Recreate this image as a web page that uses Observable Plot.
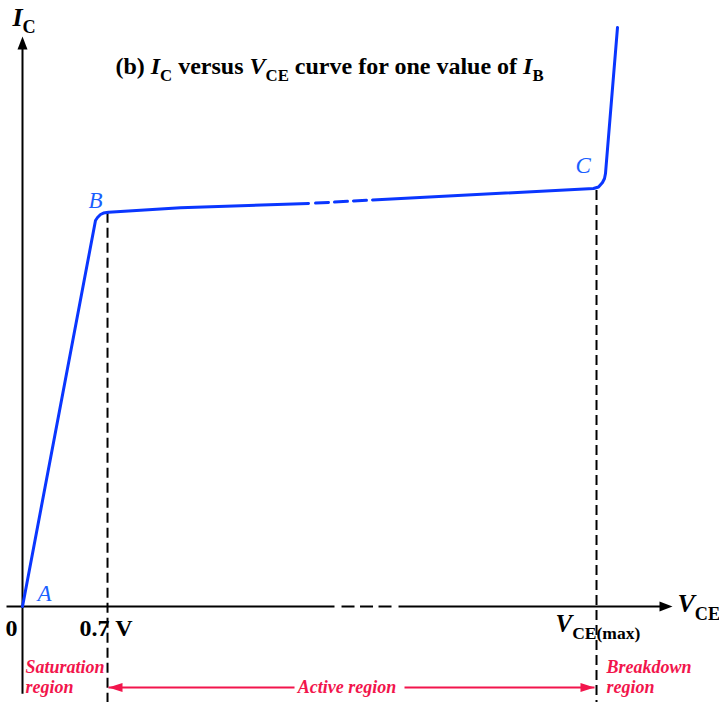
<!DOCTYPE html>
<html><head><meta charset="utf-8">
<script src="https://cdn.jsdelivr.net/npm/d3@7"></script>
<script src="https://cdn.jsdelivr.net/npm/@observablehq/plot@0.6"></script>
<style>body{margin:0;background:#fff}svg{display:block}</style>
</head><body><div id="chart"></div>
<script>
// ---- data (arbitrary units: VCE 0..100, IC 0..100) ----
const vCurve1 = [0, 11.23, 11.54, 12.0, 12.46, 13.23, 24.31, 44.0];
const iCurve1 = [0, 67.72, 68.25, 68.77, 69.02, 69.18, 69.95, 70.70];
const vGap = [45.08, 52.92];
const iGap = [70.77, 71.26];
const vCurve2 = [53.85, 87.85, 88.62, 89.23, 89.54, 89.69, 91.54];
const iCurve2 = [71.32, 73.33, 73.60, 74.39, 75.09, 75.96, 101.58];

const boundaryV = [13.08, 88.31];
const boundaryTop = [69.0, 72.98];
const tickLabels = ["0.7 V", "*V*_{CE(max)}"];

const pointNames = ["A", "B", "C"];
const pointV = [2.31, 10.15, 85.08];
const pointI = [1.05, 70.0, 76.14];

const regionNames = ["Saturation\nregion", "Active region", "Breakdown\nregion"];

const titleText = "(b) *I*_{C} versus *V*_{CE} curve for one value of *I*_{B}";
const xLabel = "*V*_{CE}";
const yLabel = "*I*_{C}";

// ---- build tables ----
const toPts = (vs, is) => vs.map((v, k) => ({v, i: is[k]}));
const curve1 = toPts(vCurve1, iCurve1);
const gap = toPts(vGap, iGap);
const curve2 = toPts(vCurve2, iCurve2);
const bounds = boundaryV.map((v, k) => ({v, top: boundaryTop[k], label: tickLabels[k]}));
const points = pointNames.map((n, k) => ({n, v: pointV[k], i: pointI[k]}));

const BLUE = "#0a36ff", LBLUE = "#1a5fff", RED = "#f2154c", INK = "#000";
const yBottom = -16.84, yArrow = -14.21;

// custom arrowhead symbols (tip at the anchor point)
const tri = (pts) => ({draw(ctx) { ctx.moveTo(0, 0); ctx.lineTo(pts[0], pts[1]); ctx.lineTo(pts[2], pts[3]); ctx.closePath(); }});
const arrowUp = tri([-5, 13, 5, 13]);
const arrowRight = tri([-13, -5, -13, 5]);
const redRight = tri([-14, -4.5, -14, 4.5]);
const redLeft = tri([14, -4.5, 14, 4.5]);

const serif = "'Liberation Serif', 'Times New Roman', serif";

const chart = Plot.plot({
  width: 719, height: 705,
  x: {domain: [0, 100], range: [22, 672], axis: null},
  y: {domain: [0, 100], range: [606, 36], axis: null},
  style: {background: "white", fontFamily: serif},
  marks: [
    // axes
    Plot.link([{x1: -2.46, x2: 48.0}, {x1: 57.85, x2: 98.5}], {x1: "x1", x2: "x2", y1: 0, y2: 0, stroke: INK, strokeWidth: 2}),
    Plot.link([{x1: 49.08, x2: 56.92}], {x1: "x1", x2: "x2", y1: 0, y2: 0, stroke: INK, strokeWidth: 2, strokeDasharray: "13,5.5"}),
    Plot.link([{y1: -15.3, y2: 98}], {x1: 0, x2: 0, y1: "y1", y2: "y2", stroke: INK, strokeWidth: 2}),
    Plot.dot([{v: 0, i: 100}], {x: "v", y: "i", symbol: arrowUp, r: 5, fill: INK}),
    Plot.dot([{v: 100, i: 0}], {x: "v", y: "i", symbol: arrowRight, r: 5, fill: INK}),
    // region boundaries
    Plot.ruleX(bounds, {x: "v", y1: "top", y2: yBottom, stroke: INK, strokeWidth: 2, strokeDasharray: "10,5"}),
    // curve
    Plot.line(curve1, {x: "v", y: "i", stroke: BLUE, strokeWidth: 3, strokeLinejoin: "round", strokeLinecap: "round"}),
    Plot.line(gap, {x: "v", y: "i", stroke: BLUE, strokeWidth: 3, strokeDasharray: "13,6"}),
    Plot.line(curve2, {x: "v", y: "i", stroke: BLUE, strokeWidth: 3, strokeLinejoin: "round", strokeLinecap: "round"}),
    // point labels
    Plot.text(points, {x: "v", y: "i", text: "n", textAnchor: "start", lineAnchor: "bottom", fill: LBLUE, fontSize: 23, fontStyle: "italic"}),
    // tick labels
    Plot.text(["0"], {x: -1.69, y: -5.26, text: d => d, textAnchor: "middle", lineAnchor: "bottom", fontSize: 24, fontWeight: "bold", fill: INK}),
    Plot.text([bounds[0]], {x: 12.85, y: -5.26, text: "label", textAnchor: "middle", lineAnchor: "bottom", fontSize: 24, fontWeight: "bold", fill: INK}),
    Plot.text([bounds[1]], {x: 82.0, y: -4.56, text: "label", textAnchor: "start", lineAnchor: "bottom", fontSize: 25, fontWeight: "bold", fill: INK}),
    // axis labels
    Plot.text([xLabel], {x: 100.77, y: -1.05, text: d => d, textAnchor: "start", lineAnchor: "bottom", fontSize: 26, fontWeight: "bold", fill: INK}),
    Plot.text([yLabel], {x: -1.54, y: 101.9, text: d => d, textAnchor: "start", lineAnchor: "bottom", fontSize: 26, fontWeight: "bold", fill: INK}),
    // title
    Plot.text([titleText], {x: 47.23, y: 93.4, text: d => d, textAnchor: "middle", lineAnchor: "bottom", fontSize: 24, fontWeight: "bold", fill: INK}),
    // region annotations
    Plot.link([{x1: 13.23, x2: 41.85}, {x1: 58.77, x2: 88.0}], {x1: "x1", x2: "x2", y1: yArrow, y2: yArrow, stroke: RED, strokeWidth: 2}),
    Plot.dot([{v: 13.23, i: yArrow}], {x: "v", y: "i", symbol: redLeft, r: 5, fill: RED}),
    Plot.dot([{v: 88.0, i: yArrow}], {x: "v", y: "i", symbol: redRight, r: 5, fill: RED}),
    Plot.text([regionNames[0]], {x: 0.46, y: -15.09, text: d => d, textAnchor: "start", lineAnchor: "bottom", lineHeight: 1.1, fontSize: 18, fontStyle: "italic", fontWeight: "bold", fill: RED}),
    Plot.text([regionNames[2]], {x: 89.85, y: -15.09, text: d => d, textAnchor: "start", lineAnchor: "bottom", lineHeight: 1.1, fontSize: 18, fontStyle: "italic", fontWeight: "bold", fill: RED}),
    Plot.text([regionNames[1]], {x: 49.92, y: yArrow, text: d => d, textAnchor: "middle", lineAnchor: "middle", fontSize: 18, fontStyle: "italic", fontWeight: "bold", fill: RED})
  ]
});

// rich text: *x* italic, _{x} subscript
function rich(svg) {
  const NS = "http://www.w3.org/2000/svg";
  for (const t of svg.querySelectorAll("text")) {
    const s = t.textContent;
    if (!/\*|_\{/.test(s) || t.querySelector("tspan")) continue;
    t.textContent = "";
    const re = /\*([^*]+)\*|_\{([^}]+)\}|([^*_]+)/g;
    let m, shifted = false;
    while ((m = re.exec(s))) {
      const ts = document.createElementNS(NS, "tspan");
      if (m[2] != null) {
        ts.textContent = m[2];
        ts.setAttribute("font-size", "70%");
        ts.setAttribute("font-style", "normal");
        ts.setAttribute("dy", "0.4em");
        shifted = true;
      } else {
        ts.textContent = m[1] != null ? m[1] : m[3];
        if (m[1] != null) ts.setAttribute("font-style", "italic");
        if (shifted) { ts.setAttribute("dy", "-0.28em"); shifted = false; }
      }
      t.appendChild(ts);
    }
  }
}
rich(chart);
document.getElementById("chart").appendChild(chart);
</script>
</body></html>
